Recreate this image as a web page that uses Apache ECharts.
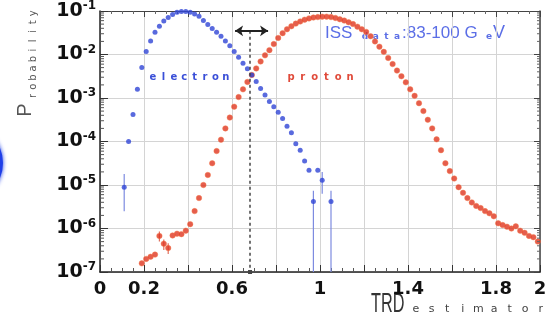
<!DOCTYPE html>
<html>
<head>
<meta charset="utf-8">
<script src="https://cdn.jsdelivr.net/npm/echarts@6/dist/echarts.min.js"></script>
<style>
html,body{margin:0;padding:0;background:#fff;}
#chart{width:555px;height:326px;}
</style>
</head>
<body>
<div id="chart"></div>
<script>
// ---- data ----
const elecX = [0.11,0.13,0.15,0.17,0.19,0.21,0.23,0.25,0.27,0.29,0.31,0.33,0.35,0.37,0.39,0.41,0.43,0.45,0.47,0.49,0.51,0.53,0.55,0.57,0.59,0.61,0.63,0.65,0.67,0.69,0.71,0.73,0.75,0.77,0.79,0.81,0.83,0.85,0.87,0.89,0.91,0.93,0.95,0.97,0.99,1.01,1.05];
const elecP = [8.9e-6,1.0e-4,4.17e-4,1.58e-3,5.0e-3,1.17e-2,2.04e-2,3.24e-2,4.47e-2,5.89e-2,7.08e-2,8.32e-2,9.33e-2,9.77e-2,9.77e-2,9.33e-2,8.51e-2,7.59e-2,6.03e-2,4.9e-2,3.98e-2,3.24e-2,2.63e-2,2.04e-2,1.58e-2,1.17e-2,8.7e-3,6.31e-3,4.68e-3,3.39e-3,2.4e-3,1.66e-3,1.17e-3,8.32e-4,6.31e-4,4.68e-4,3.39e-4,2.24e-4,1.58e-4,8.9e-5,6.31e-5,3.55e-5,2.19e-5,4.17e-6,2.19e-5,1.29e-5,4.17e-6];

const protX = [0.19,0.21,0.23,0.25,0.27,0.29,0.31,0.33,0.35,0.37,0.39,0.41,0.43,0.45,0.47,0.49,0.51,0.53,0.55,0.57,0.59,0.61,0.63,0.65,0.67,0.69,0.71,0.73,0.75,0.77,0.79,0.81,0.83,0.85,0.87,0.89,0.91,0.93,0.95,0.97,0.99,1.01,1.03,1.05,1.07,1.09,1.11,1.13,1.15,1.17,1.19,1.21,1.23,1.25,1.27,1.29,1.31,1.33,1.35,1.37,1.39,1.41,1.43,1.45,1.47,1.49,1.51,1.53,1.55,1.57,1.59,1.61,1.63,1.65,1.67,1.69,1.71,1.73,1.75,1.77,1.79,1.81,1.83,1.85,1.87,1.89,1.91,1.93,1.95,1.97,1.99];
const protP = [1.58e-7,2.0e-7,2.24e-7,2.51e-7,6.76e-7,4.47e-7,3.55e-7,6.92e-7,7.59e-7,7.41e-7,8.91e-7,1.26e-6,2.51e-6,5.01e-6,1.0e-5,1.7e-5,3.16e-5,6.03e-5,1.1e-4,2.0e-4,3.55e-4,6.31e-4,1.05e-3,1.58e-3,2.34e-3,3.39e-3,4.79e-3,6.92e-3,9.55e-3,1.26e-2,1.74e-2,2.4e-2,3.09e-2,3.8e-2,4.47e-2,5.13e-2,5.75e-2,6.31e-2,6.76e-2,7.08e-2,7.24e-2,7.41e-2,7.41e-2,7.24e-2,6.92e-2,6.46e-2,6.03e-2,5.5e-2,5.01e-2,4.37e-2,3.8e-2,3.31e-2,2.63e-2,2.0e-2,1.51e-2,1.15e-2,8.32e-3,6.03e-3,4.27e-3,3.16e-3,2.29e-3,1.58e-3,1.12e-3,7.59e-4,5.01e-4,3.16e-4,2.0e-4,1.12e-4,6.31e-5,3.16e-5,2.09e-5,1.41e-5,8.91e-6,6.61e-6,5.01e-6,3.98e-6,3.31e-6,2.95e-6,2.51e-6,2.24e-6,1.91e-6,1.32e-6,1.2e-6,1.1e-6,1.0e-6,1.12e-6,8.91e-7,7.94e-7,6.76e-7,6.31e-7,5.01e-7];

// error bars: x, low, high
const elecErrX  = [0.11, 0.97, 1.01, 1.05];
const elecErrLo = [2.5e-6, 1.0e-7, 6.3e-6, 1.0e-7];
const elecErrHi = [1.8e-5, 7.4e-6, 2.0e-5, 7.4e-6];
const protErrX  = [0.27, 0.29, 0.31];
const protErrLo = [5.0e-7, 3.2e-7, 2.6e-7];
const protErrHi = [8.5e-7, 5.6e-7, 4.6e-7];

const xTickLabels = ['0','0.2','0.6','1','1.4','1.8','2'];
// log-axis minor tick mantissas and decades (ROOT style 2..9 x 10^k)
const minorMantissas = [2,3,4,5,6,7,8,9];
const minorDecades = [-7,-6,-5,-4,-3,-2];
const cutX = 0.682;
const cutArrow = [0.614, 0.764];
const arrowY = 3.5e-2;

// ---- build ----
const chart = echarts.init(document.getElementById('chart'), null, {renderer:'canvas'});
const BLUE = '#2f45d6', RED = '#df3420';

function spaced(str, x0, y, step, font, fill, rot) {
  return str.split('').map((ch, i) => ({
    type: 'text',
    x: rot ? x0 : x0 + i * step,
    y: rot ? y - i * step : y,
    rotation: rot || 0,
    silent: true,
    style: { text: ch, font: font, fill: fill, textAlign: 'center', textVerticalAlign: 'middle' }
  }));
}

const graphics = [
  { type: 'circle', shape: { cx: -36, cy: 163, r: 39 }, style: { fill: '#1f3fe8', shadowBlur: 4, shadowColor: '#1f3fe8' }, silent: true },
  // y title
  { type: 'text', x: 25, y: 110, rotation: Math.PI / 2, style: { text: 'P', font: '20px "Liberation Sans", Arial', fill: '#555', textAlign: 'center', textVerticalAlign: 'middle' }, silent: true },
  ...spaced('robability', 33, 96, 9.2, '10px "DejaVu Sans"', '#555', Math.PI / 2),
  // x title
  { type: 'text', x: 371, y: 304, scaleX: 0.58, style: { text: 'TRD', font: '28px "Liberation Sans", Arial', fill: '#333', textAlign: 'left', textVerticalAlign: 'middle' }, silent: true },
  ...spaced('estimator', 416, 309, 15.6, '11px "DejaVu Sans"', '#444'),
  // annotation texts
  { type: 'text', x: 325, y: 33, style: { text: 'ISS', font: '17px "Liberation Sans", Arial', fill: '#5b6ee6', textAlign: 'left', textVerticalAlign: 'middle' }, silent: true },
  ...spaced('data', 365, 37, 10.7, 'bold 9px "DejaVu Sans"', '#5b6ee6'),
  { type: 'text', x: 402, y: 33, style: { text: ':83-100 G', font: '17px "Liberation Sans", Arial', fill: '#5b6ee6', textAlign: 'left', textVerticalAlign: 'middle' }, silent: true },
  { type: 'text', x: 489, y: 37, style: { text: 'e', font: 'bold 9px "DejaVu Sans"', fill: '#5b6ee6', textAlign: 'center', textVerticalAlign: 'middle' }, silent: true },
  { type: 'text', x: 493, y: 33, style: { text: 'V', font: '18px "Liberation Sans", Arial', fill: '#5b6ee6', textAlign: 'left', textVerticalAlign: 'middle' }, silent: true },
  ...spaced('electron', 153, 77, 10.4, 'bold 10px "DejaVu Sans"', '#3a4fd8'),
  ...spaced('proton', 291, 77, 11.8, 'bold 10px "DejaVu Sans"', '#e04a3a')
];

function errSeries(xs, lo, hi, color) {
  return {
    type: 'custom', silent: true, z: 1,
    data: xs.map((x, i) => [x, lo[i], hi[i]]),
    encode: { x: 0, y: [1, 2] },
    renderItem: (params, api) => {
      const p1 = api.coord([api.value(0), api.value(1)]);
      const p2 = api.coord([api.value(0), api.value(2)]);
      return { type: 'line', shape: { x1: p1[0], y1: p1[1], x2: p2[0], y2: p2[1] }, style: { stroke: color, lineWidth: 1.2 } };
    }
  };
}

const minorVals = [];
minorDecades.forEach(d => minorMantissas.forEach(m => minorVals.push([0, m * Math.pow(10, d)])));

const minorTickSeries = {
  type: 'custom', silent: true, z: 5, clip: false,
  data: minorVals,
  encode: { x: 0, y: 1 },
  renderItem: (params, api) => {
    const l = api.coord([0, api.value(1)]);
    const r = api.coord([2, api.value(1)]);
    return { type: 'group', children: [
      { type: 'line', shape: { x1: l[0], y1: l[1], x2: l[0] + 4, y2: l[1] }, style: { stroke: '#555', lineWidth: 1 } },
      { type: 'line', shape: { x1: r[0], y1: r[1], x2: r[0] - 3, y2: r[1] }, style: { stroke: '#666', lineWidth: 1 } }
    ] };
  }
};

const axisFont = '"DejaVu Sans", Verdana, sans-serif';
const option = {
  backgroundColor: '#fff',
  animation: false,
  grid: { left: 100, right: 15, top: 10, bottom: 54, containLabel: false },
  xAxis: [{
    type: 'value', min: 0, max: 2, interval: 0.2,
    axisLine: { show: true, onZero: false, lineStyle: { color: '#222', width: 1.5 } },
    axisTick: { inside: true, length: 7, lineStyle: { color: '#333' } },
    minorTick: { show: true, splitNumber: 4, length: 4, lineStyle: { color: '#555' } },
    splitLine: { show: true, lineStyle: { color: '#d4d4d4', width: 1 } },
    axisLabel: {
      margin: 8, color: '#111', fontSize: 18, fontWeight: 'bold', fontFamily: axisFont,
      formatter: v => { const s = String(+(+v).toFixed(1)); return xTickLabels.includes(s) ? s : ''; }
    }
  }, {
    type: 'value', min: 0, max: 2, interval: 0.2, position: 'top',
    axisLine: { show: true, onZero: false, lineStyle: { color: '#444', width: 1 } },
    axisTick: { inside: true, length: 6, lineStyle: { color: '#444' } },
    minorTick: { show: true, splitNumber: 4, length: 3, lineStyle: { color: '#666' } },
    splitLine: { show: false }, axisLabel: { show: false }
  }],
  yAxis: [{
    type: 'log', logBase: 10, min: 1e-7, max: 1e-1, interval: 1,
    axisLine: { show: true, onZero: false, lineStyle: { color: '#222', width: 1.5 } },
    axisTick: { inside: true, length: 8, lineStyle: { color: '#333' } },
    splitLine: { show: true, lineStyle: { color: '#d4d4d4', width: 1 } },
    axisLabel: {
      margin: 4,
      formatter: v => '{b|10}{s|' + Math.round(Math.log10(v)) + '}',
      rich: {
        b: { fontSize: 19, fontWeight: 'bold', fontFamily: axisFont, color: '#111' },
        s: { fontSize: 12, fontWeight: 'bold', fontFamily: axisFont, color: '#111', padding: [0, 0, 10, 0] }
      }
    }
  }, {
    type: 'log', logBase: 10, min: 1e-7, max: 1e-1, interval: 1, position: 'right',
    axisLine: { show: true, onZero: false, lineStyle: { color: '#444', width: 1.5 } },
    axisTick: { inside: true, length: 6, lineStyle: { color: '#444' } },
    splitLine: { show: false }, axisLabel: { show: false }
  }],
  series: [
    minorTickSeries,
    errSeries(elecErrX, elecErrLo, elecErrHi, '#7d8be0'),
    errSeries(protErrX, protErrLo, protErrHi, '#e0705e'),
    {
      name: 'proton', type: 'scatter', z: 3,
      symbol: 'circle', symbolSize: 5.5,
      itemStyle: { color: RED, borderColor: 'rgba(245,120,70,0.55)', borderWidth: 1 },
      data: protX.map((x, i) => [x, protP[i]])
    },
    {
      name: 'electron', type: 'scatter', z: 4,
      symbol: 'circle', symbolSize: 5,
      itemStyle: { color: BLUE },
      data: elecX.map((x, i) => [x, elecP[i]]),
      markLine: {
        silent: true, animation: false,
        label: { show: false },
        data: [
          [{ coord: [cutX, arrowY], symbol: 'none', lineStyle: { color: '#444', type: [3, 3], width: 1.5 } },
           { coord: [cutX, 1e-7], symbol: 'rect', symbolSize: 4 }],
          [{ coord: [cutArrow[0], arrowY], symbol: 'arrow', symbolSize: 8, lineStyle: { color: '#222', type: 'solid', width: 2 } },
           { coord: [cutArrow[1], arrowY], symbol: 'arrow', symbolSize: 8 }]
        ]
      }
    }
  ],
  graphic: graphics
};
chart.setOption(option);
</script>
</body>
</html>
